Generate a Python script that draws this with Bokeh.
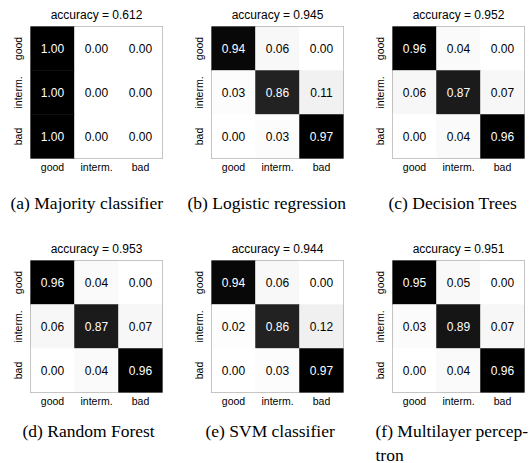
from bokeh.plotting import figure
from bokeh.models import FactorRange, Title, LinearColorMapper, ColumnDataSource
from bokeh.layouts import column, row
from bokeh.transform import transform
from bokeh.embed import file_html
from bokeh.resources import INLINE
from bokeh.core.properties import value

# ---------------- data ----------------
classes = ["good", "interm.", "bad"]
accuracies = ["0.612", "0.945", "0.952", "0.953", "0.944", "0.951"]
captions = ["(a) Majority classifier", "(b) Logistic regression", "(c) Decision Trees",
            "(d) Random Forest", "(e) SVM classifier", "(f) Multilayer percep-\ntron"]
cm_majority = [[1.00, 0.00, 0.00], [1.00, 0.00, 0.00], [1.00, 0.00, 0.00]]
cm_logreg = [[0.94, 0.06, 0.00], [0.03, 0.86, 0.11], [0.00, 0.03, 0.97]]
cm_tree = [[0.96, 0.04, 0.00], [0.06, 0.87, 0.07], [0.00, 0.04, 0.96]]
cm_forest = [[0.96, 0.04, 0.00], [0.06, 0.87, 0.07], [0.00, 0.04, 0.96]]
cm_svm = [[0.94, 0.06, 0.00], [0.02, 0.86, 0.12], [0.00, 0.03, 0.97]]
cm_mlp = [[0.95, 0.05, 0.00], [0.03, 0.89, 0.07], [0.00, 0.04, 0.96]]
matrices = [cm_majority, cm_logreg, cm_tree, cm_forest, cm_svm, cm_mlp]

# ---------------- style ----------------
GREYS9 = ["#ffffff", "#f0f0f0", "#d9d9d9", "#bdbdbd", "#969696",
          "#737373", "#525252", "#252525", "#000000"]


def interp_palette(colors, n=256):
    rgb = [tuple(int(c[i:i + 2], 16) for i in (1, 3, 5)) for c in colors]
    out = []
    for k in range(n):
        t = k / (n - 1) * (len(rgb) - 1)
        i = min(int(t), len(rgb) - 2)
        f = t - i
        c = [round(rgb[i][j] + (rgb[i + 1][j] - rgb[i][j]) * f) for j in range(3)]
        out.append("#%02x%02x%02x" % tuple(c))
    return out


PALETTE = interp_palette(GREYS9)
SANS = "Liberation Sans"
SERIF = "Liberation Serif"
COL_W = [181, 181, 170]
COL_BR = [19, 19, 8]
ROW_H = [234, 229]
ROW_BB = [76, 71]
CAP_STANDOFF = [34, 22]
CAP_OFFSET = [-20, -24, -4, -8, -6, -17]


def make_panel(idx):
    r, c = divmod(idx, 3)
    m = matrices[idx]
    vmax = max(max(rw) for rw in m)
    vmin = min(min(rw) for rw in m)
    xs, ys, vals, labels, tcolors = [], [], [], [], []
    for i, true_cls in enumerate(classes):
        for j, pred_cls in enumerate(classes):
            v = m[i][j]
            xs.append(pred_cls)
            ys.append(true_cls)
            vals.append(v)
            labels.append("%.2f" % v)
            tcolors.append("white" if v > (vmax + vmin) / 2 else "black")
    src = ColumnDataSource(dict(x=xs, y=ys, v=vals, label=labels, tc=tcolors))
    mapper = LinearColorMapper(palette=PALETTE, low=vmin, high=vmax)

    p = figure(width=COL_W[c], height=ROW_H[r],
               x_range=FactorRange(*classes),
               y_range=FactorRange(*classes[::-1]),
               output_backend="svg", toolbar_location=None, tools="",
               min_border_left=30, min_border_right=COL_BR[c],
               min_border_top=26, min_border_bottom=ROW_BB[r])
    p.rect(x="x", y="y", width=1, height=1, source=src,
           fill_color=transform("v", mapper), line_color=transform("v", mapper),
           line_width=0.5)
    p.text(x="x", y="y", text="label", source=src, text_color="tc",
           text_align="center", text_baseline="middle",
           text_font=value(SANS), text_font_size="12px")

    p.grid.grid_line_color = None
    p.axis.axis_line_color = None
    p.axis.major_tick_line_color = None
    p.axis.major_label_text_font = SANS
    p.axis.major_label_text_font_size = "10.5px"
    p.axis.major_label_text_color = "black"
    p.xaxis.major_label_standoff = -4
    p.yaxis.major_label_standoff = 1
    p.yaxis.major_label_orientation = "vertical"
    p.outline_line_color = "#999999"
    p.outline_line_width = 1
    p.background_fill_color = "white"
    p.border_fill_color = "white"

    p.title.text = "accuracy = " + accuracies[idx]
    p.title.align = "center"
    p.title.text_font = SANS
    p.title.text_font_size = "12px"
    p.title.text_font_style = "normal"
    p.title.text_color = "black"
    p.title.standoff = 9

    lines = captions[idx].split("\n")
    first = Title(text=lines[0], align="left", offset=CAP_OFFSET[idx],
                  vertical_align="top", standoff=CAP_STANDOFF[r],
                  text_font=SERIF, text_font_size="17.5px",
                  text_font_style="normal", text_color="black")
    p.add_layout(first, "below")
    for line in lines[1:]:
        p.add_layout(Title(text=line, align="left", offset=CAP_OFFSET[idx],
                           vertical_align="top", standoff=-18,
                           text_font=SERIF, text_font_size="17.5px",
                           text_font_style="normal", text_color="black"), "below")
    return p


panels = [make_panel(i) for i in range(6)]
layout = column(row(*panels[:3]), row(*panels[3:]))
open("out.html", "w").write(file_html(layout, INLINE))
